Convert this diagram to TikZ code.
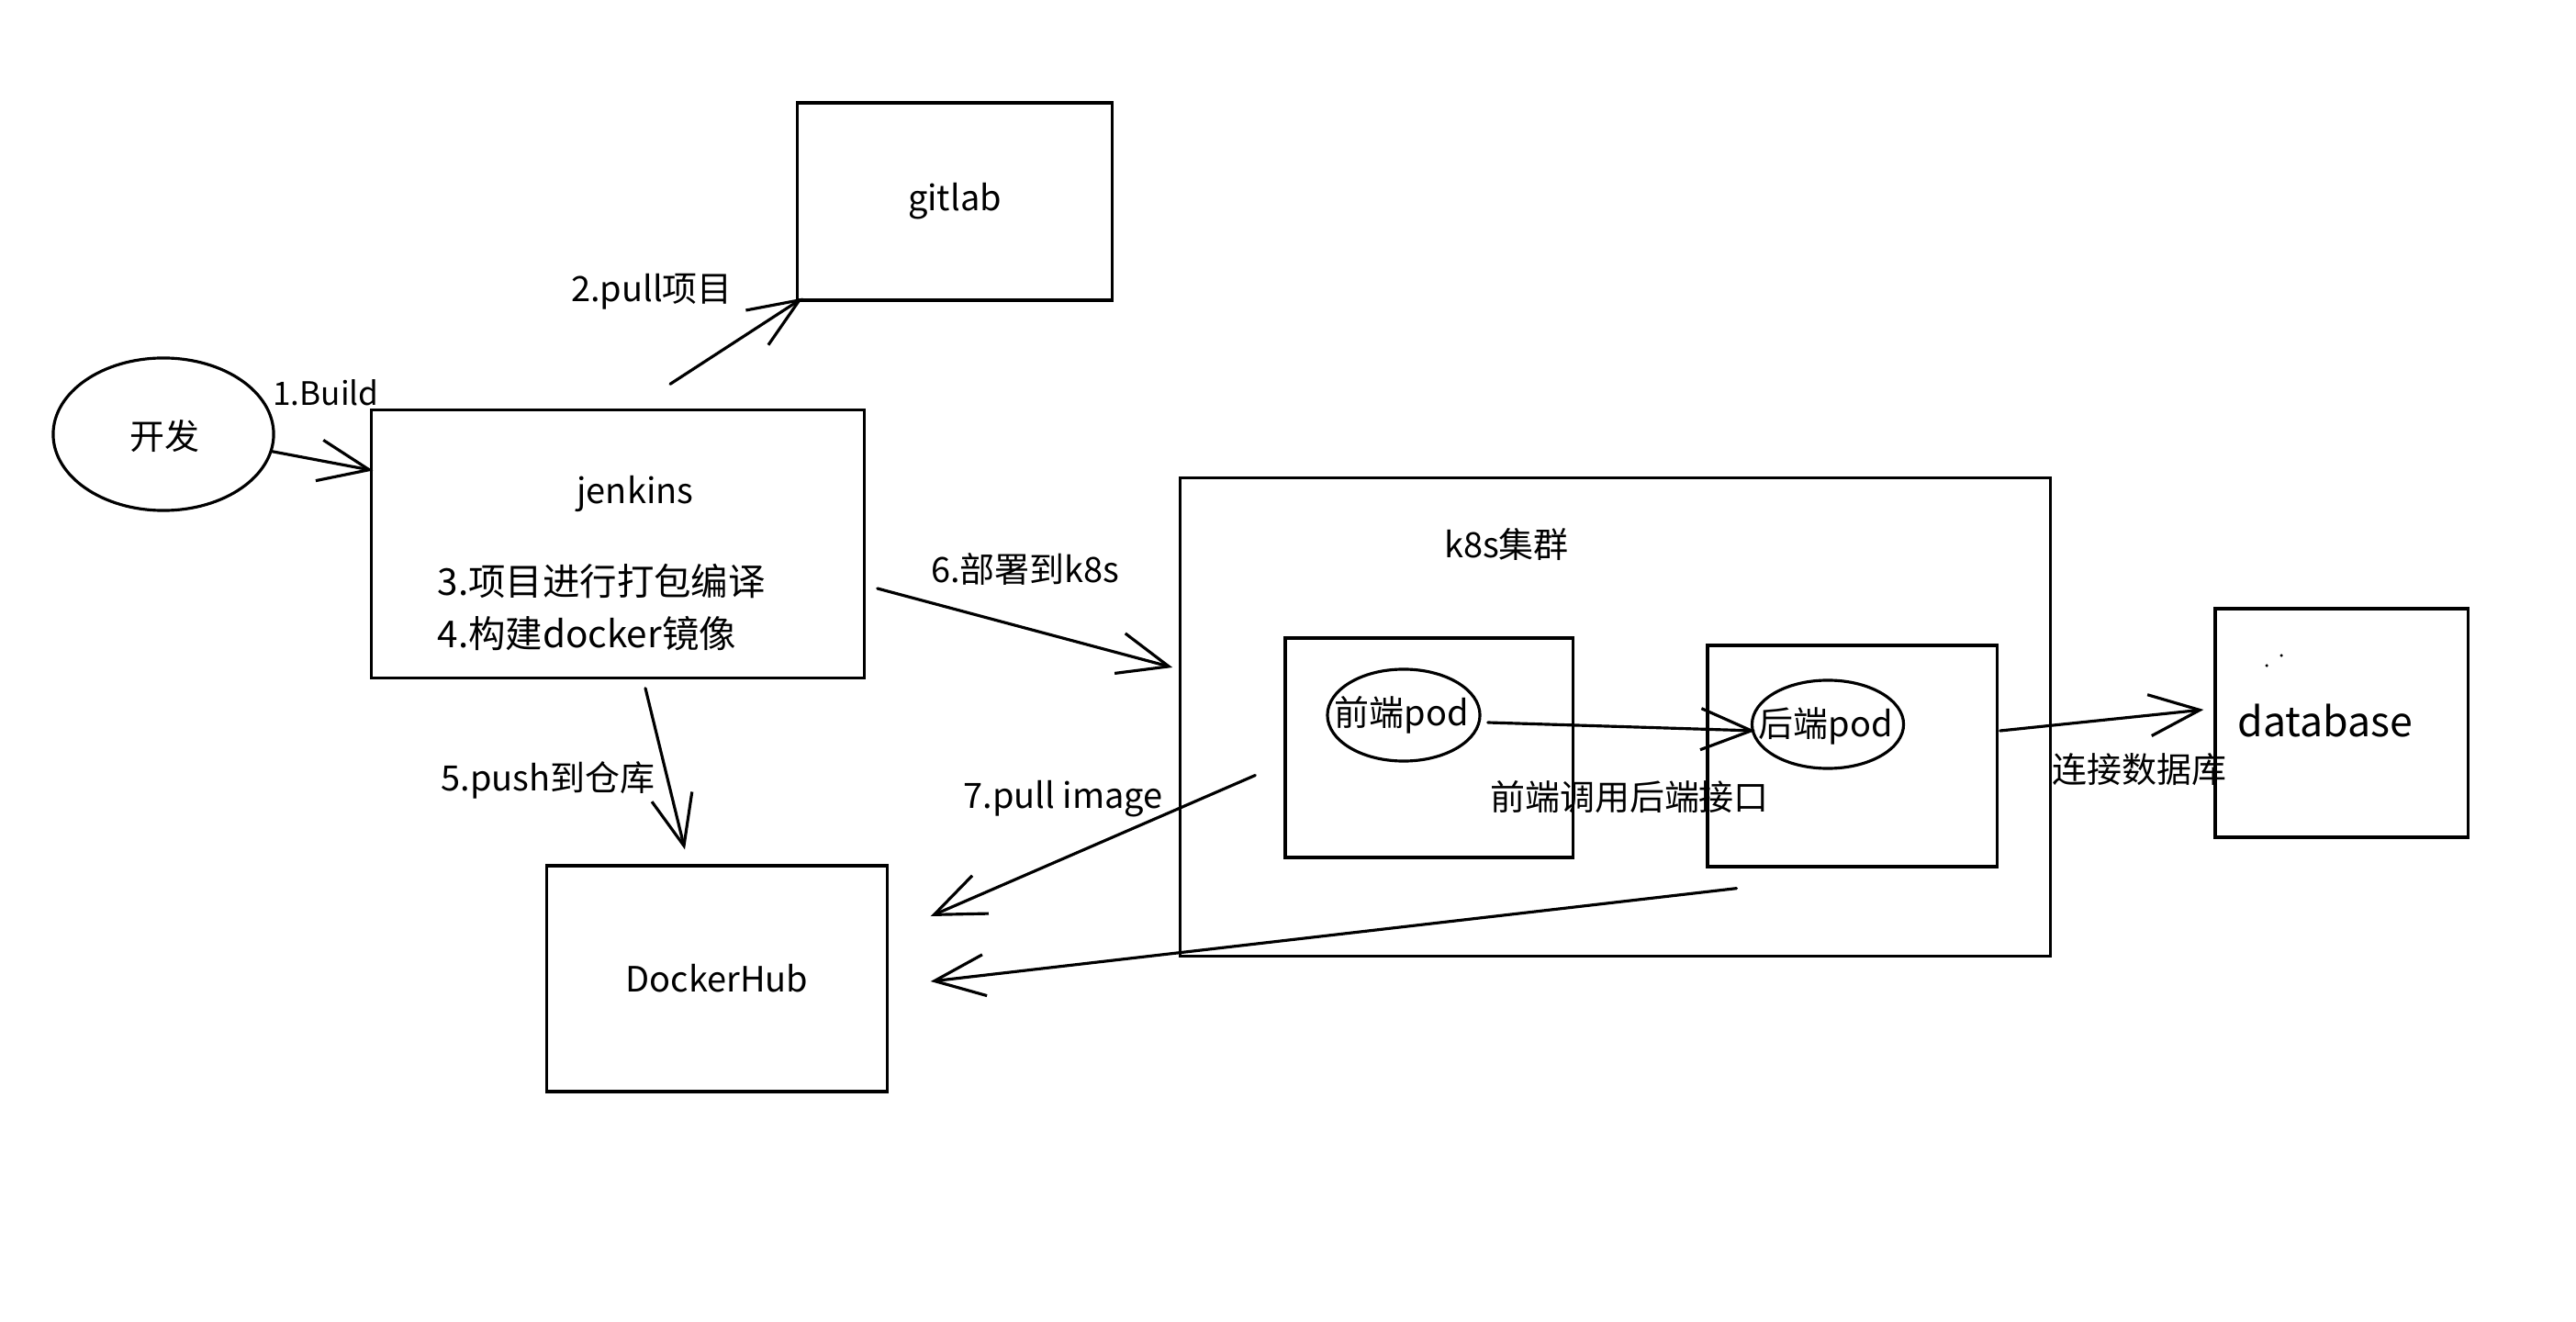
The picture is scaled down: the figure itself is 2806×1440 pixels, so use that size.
\documentclass[tikz,border=0pt]{standalone}
\usepackage{fontspec}
\setmainfont{Noto Sans CJK SC}
\usetikzlibrary{arrows.meta,shapes.geometric}
\newcommand\fsz{\fontsize{10.8pt}{13pt}\selectfont}
\newcommand\fsm{\fontsize{10pt}{12pt}\selectfont}
\newcommand\fbig{\fontsize{11.5pt}{14pt}\selectfont}
\newcommand\fdb{\fontsize{12.7pt}{15pt}\selectfont}
\begin{document}
\begin{tikzpicture}[x=0.01cm,y=-0.01cm,line width=0.9pt,
  box/.style={draw,rectangle,inner sep=0pt,font=\fsz},
  pod/.style={draw,ellipse,inner sep=0pt},
  txt/.style={inner sep=0pt,font=\fsz},
  arr/.style={-{Straight Barb[length=0.55cm,width=0.45cm]},line cap=round}]
\path[fill=white] (0,0) rectangle (2806,1440);
\useasboundingbox (0,0) rectangle (2806,1440);

% nodes
\node[pod,minimum width=2.40cm,minimum height=1.66cm] (dev) at (178,473) {};
\node[txt] (devT) at (179,475) {开发};

\node[box,minimum width=5.36cm,minimum height=2.91cm] (jenkins) at (673,592.5) {};
\node[txt] (jenkinsT) at (692,538) {jenkins};
\node[txt,anchor=west,font=\fbig] (step3) at (475,633) {3.项目进行打包编译};
\node[txt,anchor=west,font=\fbig] (step4) at (475,690) {4.构建docker镜像};

\node[box,minimum width=3.42cm,minimum height=2.15cm] (gitlab) at (1040,219.5) {gitlab};
\node[box,minimum width=3.70cm,minimum height=2.46cm] (hub) at (781,1066) {DockerHub};

\node[box,minimum width=9.47cm,minimum height=5.20cm] (k8s) at (1759.5,781) {};
\node[txt] (k8sT) at (1641,593) {k8s集群};

\node[box,minimum width=3.13cm,minimum height=2.39cm] (front) at (1556.5,814.5) {};
\node[pod,minimum width=1.66cm,minimum height=1.00cm] (fpod) at (1529,779) {};
\node[txt] (fpodT) at (1527,779) {前端pod};

\node[box,minimum width=3.15cm,minimum height=2.41cm] (back) at (2017.5,823.5) {};
\node[pod,minimum width=1.65cm,minimum height=0.96cm] (bpod) at (1991,789) {};
\node[txt] (bpodT) at (1989,791) {后端pod};

\node[box,minimum width=2.75cm,minimum height=2.49cm] (db) at (2550.5,787.5) {};
\node[txt,font=\fdb] (dbT) at (2533,785) {database};
\fill (2485,714) circle (0.5pt);
\fill (2469,725) circle (0.5pt);

% labels
\node[txt,font=\fsm] (l1) at (355,428) {1.Build};
\node[txt] (l2) at (710,318) {2.pull项目};
\node[txt] (l5) at (597,850) {5.push到仓库};
\node[txt] (l6) at (1117,620) {6.部署到k8s};
\node[txt] (l7) at (1158,870) {7.pull image};
\node[txt] (lcall) at (1775,868) {前端调用后端接口};
\node[txt] (ldb) at (2330,838) {连接数据库};

% connectors
\draw[arr] (dev.-9) -- ([shift={(3,-80)}]jenkins.west);
\draw[arr] ([shift={(57,-27)}]jenkins.north) -- ([shift={(7,-4)}]gitlab.south west);
\draw[arr] ([shift={(30,10)}]jenkins.south) -- ([shift={(-35,-16)}]hub.north);
\draw[arr] ([shift={(13,48.5)}]jenkins.east) -- ([shift={(-7,-54)}]k8s.west);
\draw[arr] ([shift={(-31,30)}]front.west) -- ([shift={(46,-68)}]hub.east);
\draw[arr] ([shift={(-126,22)}]back.south) -- ([shift={(46,3)}]hub.east);
\draw[arr] ([shift={(7,8)}]fpod.east) -- ([shift={(5,7)}]bpod.west);
\draw[arr] ([shift={(2,-27.5)}]back.east) -- ([shift={(-11,-14.5)}]db.west);
\end{tikzpicture}
\end{document}
